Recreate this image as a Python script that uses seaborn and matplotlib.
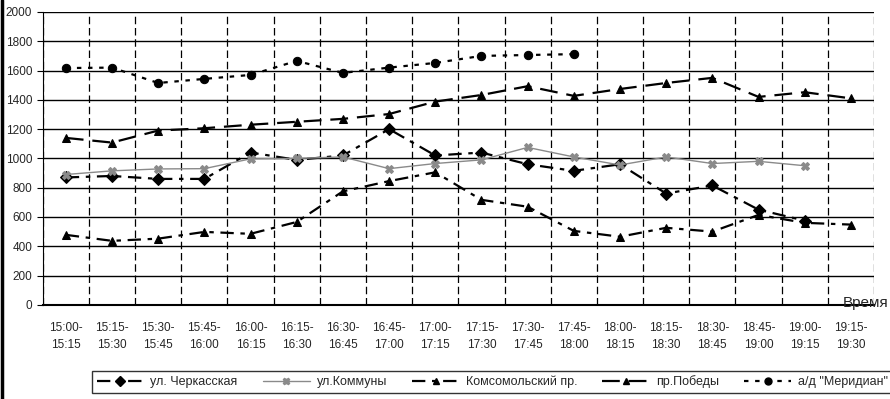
import numpy as np
import pandas as pd
import matplotlib
matplotlib.use("Agg")
import matplotlib.pyplot as plt
from matplotlib.lines import Line2D
import seaborn as sns

times = ["15:00-\n15:15", "15:15-\n15:30", "15:30-\n15:45", "15:45-\n16:00", "16:00-\n16:15",
         "16:15-\n16:30", "16:30-\n16:45", "16:45-\n17:00", "17:00-\n17:15", "17:15-\n17:30",
         "17:30-\n17:45", "17:45-\n18:00", "18:00-\n18:15", "18:15-\n18:30", "18:30-\n18:45",
         "18:45-\n19:00", "19:00-\n19:15", "19:15-\n19:30"]

cherkasskaya = [870, 880, 860, 860, 1040, 990, 1020, 1200, 1020, 1040, 960, 915, 960, 760, 815, 650, 575, np.nan]
kommuny = [890, 915, 928, 930, 997, 1000, 1010, 930, 965, 990, 1075, 1010, 955, 1010, 965, 980, 950, np.nan]
komsomolsky = [478, 437, 452, 498, 485, 566, 775, 845, 905, 717, 670, 505, 465, 526, 500, 614, 560, 548]
pobedy = [1140, 1108, 1190, 1206, 1230, 1250, 1270, 1303, 1388, 1433, 1493, 1427, 1474, 1515, 1550, 1420, 1452, 1410]
meridian = [1617, 1620, 1515, 1543, 1570, 1666, 1584, 1620, 1652, 1700, 1706, 1712, np.nan, np.nan, np.nan, np.nan, np.nan, np.nan]

names = ["ул. Черкасская", "ул.Коммуны", "Комсомольский пр.", "пр.Победы", 'а/д "Меридиан"']
series = [cherkasskaya, kommuny, komsomolsky, pobedy, meridian]

rows = []
for n, vals in zip(names, series):
    for i, v in enumerate(vals):
        rows.append({"idx": i, "val": v, "name": n})
df = pd.DataFrame(rows).dropna()

sns.set_style("white")
plt.rcParams['font.family'] = ['Liberation Sans', 'DejaVu Sans']

fig = plt.figure(figsize=(8.9, 3.99), dpi=100)
ax = fig.add_axes([0.048, 0.236, 0.934, 0.734])

palette = {names[0]: "black", names[1]: "#8a8a8a", names[2]: "black", names[3]: "black", names[4]: "black"}
dashes = {names[0]: (6, 3, 2, 3), names[1]: "", names[2]: (6, 3, 2, 3), names[3]: (8, 4), names[4]: (2, 3)}
markers = {names[0]: "D", names[1]: "X", names[2]: "^", names[3]: "^", names[4]: "o"}
widths = {names[0]: 1.6, names[1]: 1.0, names[2]: 1.6, names[3]: 1.6, names[4]: 1.6}

for n in names:
    sub = df[df["name"] == n]
    sns.lineplot(data=sub, x="idx", y="val", ax=ax, color=palette[n],
                 linewidth=widths[n], marker=markers[n], markersize=6,
                 markeredgecolor=palette[n], markerfacecolor=palette[n],
                 dashes=False, label=n, sort=False, legend=False)
    line = ax.lines[-1]
    if dashes[n]:
        line.set_dashes(dashes[n])

ax.set_xlim(-0.5, len(times) - 0.5)
ax.set_ylim(0, 2000)
ax.set_yticks(np.arange(0, 2001, 200))
ax.set_xticks(np.arange(len(times)))
ax.set_xticklabels(times, fontsize=8.5, linespacing=1.6)
ax.set_xticks(np.arange(len(times) + 1) - 0.5, minor=True)
ax.tick_params(axis="x", which="major", length=0, pad=12)
ax.tick_params(axis="x", which="minor", length=4, color="black", direction="out")
ax.tick_params(axis="y", labelsize=8.5, length=4, color="black", direction="out", left=True)
ax.grid(True, axis="y", color="black", linewidth=1.0)
ax.grid(True, axis="x", which="minor", color="black", linewidth=0.9, linestyle=(0, (6, 3)))
ax.set_xlabel("")
ax.set_ylabel("")
for s in ["top", "right"]:
    ax.spines[s].set_visible(False)
ax.spines["left"].set_color("black")
ax.spines["bottom"].set_color("black")
ax.spines["bottom"].set_linewidth(1.5)

fig.text(0.998, 1 - 303 / 399, "Время", fontsize=11, ha="right", va="center")

handles = []
for n in names:
    h = Line2D([0], [0], color=palette[n], linewidth=widths[n], marker=markers[n], markersize=5)
    if dashes[n]:
        h.set_dashes(dashes[n])
    handles.append(h)
leg = fig.legend(handles, names, loc="center", bbox_to_anchor=(0.553, 0.043), ncol=5,
                 fontsize=9, frameon=True, fancybox=False, edgecolor="black",
                 handlelength=3.8, columnspacing=2.0, handletextpad=0.5, borderpad=0.35)
leg.get_frame().set_linewidth(1.0)

fig.add_artist(Line2D([0.002, 0.002], [0, 1], color="black", linewidth=2.5, transform=fig.transFigure))

fig.savefig("out.png", dpi=100)
